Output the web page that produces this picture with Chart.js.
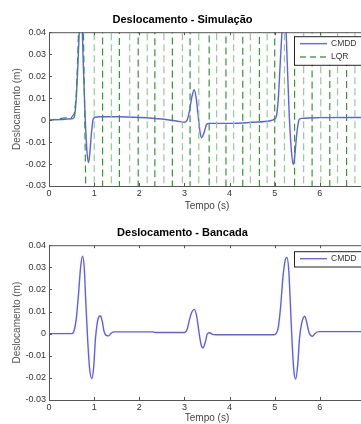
<!DOCTYPE html>
<html>
<head>
<meta charset="utf-8">
<script src="https://cdn.jsdelivr.net/npm/chart.js@4"></script>
<style>
  html, body { margin: 0; padding: 0; background: #fff; }
  #wrap { position: relative; width: 361px; height: 424px; overflow: hidden; }
  canvas { position: absolute; left: 0; }
</style>
</head>
<body>
<div id="wrap">
  <canvas id="simChart" width="370" height="212" style="top:0"></canvas>
  <canvas id="benchChart" width="370" height="212" style="top:212px"></canvas>
</div>
<script>
// Simulation - CMDD (m) vs time (s)
const simTime = [0, 0.3, 0.5, 0.55, 0.58, 0.61, 0.64, 0.67, 0.70, 0.73, 0.76, 0.80, 0.84, 0.875, 0.90, 0.94, 0.98, 1.03, 1.1, 1.5, 2.0, 2.5, 2.85, 3.0, 3.06, 3.11, 3.17, 3.215, 3.26, 3.31, 3.35, 3.385, 3.43, 3.49, 3.54, 4.0, 4.5, 4.9, 5.0, 5.04, 5.08, 5.12, 5.16, 5.20, 5.24, 5.28, 5.32, 5.37, 5.41, 5.44, 5.49, 5.54, 5.6, 6.0, 7.0];
const simCmdd = [0, 0.0003, 0.0006, 0.001, 0.004, 0.012, 0.025, 0.04, 0.05, 0.045, 0.025, 0.002, -0.014, -0.0193, -0.016, -0.006, 0.0005, 0.0013, 0.0015, 0.0015, 0.0012, 0.0005, -0.0005, -0.001, 0.0, 0.004, 0.011, 0.0138, 0.010, 0.001, -0.006, -0.008, -0.006, -0.002, -0.0015, -0.0015, -0.001, -0.0003, 0.0005, 0.002, 0.01, 0.025, 0.04, 0.05, 0.045, 0.025, 0.003, -0.014, -0.0202, -0.017, -0.006, 0.0002, 0.0008, 0.0011, 0.0012];

// Simulation - LQR, goes unstable: swings far outside the axis after ~0.8 s
const lqrTime = [0, 0.2, 0.35, 0.5, 0.56, 0.6, 0.63, 0.66, 0.70, 0.76, 0.817, 0.817,
  1.002, 1.002, 1.187, 1.187, 1.381, 1.381, 1.559, 1.559, 1.788, 1.788, 1.976, 1.976,
  2.176, 2.176, 2.345, 2.345, 2.546, 2.546, 2.733, 2.733, 2.955, 2.955, 3.125, 3.125,
  3.318, 3.318, 3.548, 3.548, 3.713, 3.713, 3.920, 3.920, 4.091, 4.091, 4.292, 4.292,
  4.461, 4.461, 4.661, 4.661, 4.833, 4.833, 5.000, 5.000, 5.215, 5.215, 5.440, 5.440,
  5.641, 5.641, 5.828, 5.828, 6.020, 6.020, 6.220, 6.220, 6.392, 6.392, 6.592, 6.592,
  6.777, 6.777, 7.0];
const lqrValue = [0, 0.0005, 0.001, 0.0012, 0.003, 0.01, 0.025, 0.045, 0.09, 0.045, -0.035, -1,
  -1, 1, 1, -1, -1, 1, 1, -1, -1, 1, 1, -1,
  -1, 1, 1, -1, -1, 1, 1, -1, -1, 1, 1, -1,
  -1, 1, 1, -1, -1, 1, 1, -1, -1, 1, 1, -1,
  -1, 1, 1, -1, -1, 1, 1, -1, -1, 1, 1, -1,
  -1, 1, 1, -1, -1, 1, 1, -1, -1, 1, 1, -1,
  -1, 1, 1];

// Bench test - CMDD
const benchTime = [0, 0.50, 0.55, 0.60, 0.65, 0.70, 0.74, 0.78, 0.82, 0.86, 0.90, 0.95, 0.99, 1.03, 1.07, 1.10, 1.14, 1.18, 1.22, 1.27, 1.32, 1.38, 1.45, 2.3, 2.35, 3.0, 3.06, 3.12, 3.17, 3.22, 3.27, 3.32, 3.37, 3.41, 3.46, 3.51, 3.56, 3.62, 3.70, 4.98, 5.03, 5.08, 5.13, 5.18, 5.23, 5.27, 5.31, 5.35, 5.39, 5.43, 5.465, 5.51, 5.55, 5.60, 5.665, 5.71, 5.76, 5.835, 5.90, 5.98, 7.0];
const benchCmdd = [0, 0, 0.001, 0.006, 0.017, 0.030, 0.035, 0.030, 0.012, -0.004, -0.016, -0.0203, -0.015, -0.002, 0.005, 0.0075, 0.008, 0.0055, 0.001, -0.0008, -0.001, 0.0003, 0.0008, 0.0008, 0.0005, 0.0005, 0.002, 0.007, 0.010, 0.011, 0.008, 0.001, -0.005, -0.0064, -0.004, 0, 0.0004, -0.0003, -0.0005, -0.0005, 0, 0.003, 0.012, 0.025, 0.033, 0.0345, 0.029, 0.012, -0.006, -0.018, -0.0205, -0.014, -0.002, 0.005, 0.0079, 0.005, 0.0005, -0.0012, 0.0002, 0.0009, 0.0009];

const FONT = "'Liberation Sans', Arial, Helvetica, sans-serif";
const BLUE = "#5c5cff";
const GREEN_DARK = "#2f9a2f";
const GREEN_LIGHT = "#8ed08e";

function toPoints(xs, ys) {
    return xs.map((x, i) => ({ x: x, y: ys[i] }));
}

// matlab-style box: frame all round and small ticks pointing inwards
const boxPlugin = {
    id: "matlabBox",
    afterDatasetsDraw(chart) {
        const { ctx, chartArea: a, scales } = chart;
        ctx.save();
        ctx.strokeStyle = "#555";
        ctx.lineWidth = 1;
        ctx.strokeRect(a.left + 0.5, a.top + 0.5, a.right - a.left, a.bottom - a.top);
        ctx.beginPath();
        scales.x.ticks.forEach((t) => {
            const px = Math.round(scales.x.getPixelForValue(t.value)) + 0.5;
            ctx.moveTo(px, a.bottom); ctx.lineTo(px, a.bottom - 3);
            ctx.moveTo(px, a.top); ctx.lineTo(px, a.top + 3);
        });
        scales.y.ticks.forEach((t) => {
            const py = Math.round(scales.y.getPixelForValue(t.value)) + 0.5;
            ctx.moveTo(a.left, py); ctx.lineTo(a.left + 3, py);
            ctx.moveTo(a.right, py); ctx.lineTo(a.right - 3, py);
        });
        ctx.stroke();

        // legend box in the upper right corner
        const items = chart.options.plugins.boxLegend.items;
        const lx = a.left + 245;
        const ly = a.top + chart.options.plugins.boxLegend.offset;
        const h = 2 + items.length * 13.3;
        ctx.fillStyle = "#fff";
        ctx.fillRect(lx, ly, 80, h);
        ctx.strokeStyle = "#222";
        ctx.strokeRect(lx + 0.5, ly + 0.5, 80, h);
        items.forEach((it, i) => {
            const y = ly + 7.5 + i * 13.3;
            ctx.beginPath();
            ctx.strokeStyle = it.color;
            ctx.lineWidth = 1.3;
            ctx.setLineDash(it.dash || []);
            ctx.moveTo(lx + 6, y); ctx.lineTo(lx + 33, y);
            ctx.stroke();
            ctx.setLineDash([]);
            ctx.fillStyle = "#333";
            ctx.font = "8.5px " + FONT;
            ctx.textBaseline = "middle";
            ctx.fillText(it.label, lx + 37, y);
        });
        ctx.restore();
    },
};

function axesOptions(title, titleTop, xHeight) {
    return {
        responsive: false,
        animation: false,
        devicePixelRatio: 1,
        layout: { padding: { left: 0, right: 5, top: 0, bottom: 0 } },
        plugins: {
            legend: { display: false },
            tooltip: { enabled: false },
            title: {
                display: true,
                text: title,
                color: "#000",
                font: { family: FONT, size: 11, weight: "bold" },
                padding: { top: titleTop, bottom: 6 },
            },
        },
        scales: {
            x: {
                type: "linear",
                min: 0,
                max: 7,
                afterFit: (s) => { s.height = xHeight; },
                grid: { display: false, drawTicks: false },
                border: { display: false },
                ticks: { stepSize: 1, padding: 2, color: "#333", font: { family: FONT, size: 9 } },
                title: { display: true, text: "Tempo (s)", color: "#444", padding: 0, font: { family: FONT, size: 10 } },
            },
            y: {
                min: -0.03,
                max: 0.04,
                afterFit: (s) => { s.width = 49; },
                grid: { display: false, drawTicks: false },
                border: { display: false },
                ticks: {
                    stepSize: 0.01,
                    padding: 3,
                    color: "#333",
                    font: { family: FONT, size: 9 },
                    callback: (v) => {
                        const r = Math.round(v * 100) / 100;
                        return r === 0 ? "0" : r.toFixed(2);
                    },
                },
                title: { display: true, text: "Deslocamento (m)", color: "#555", padding: { top: 11, bottom: 0 }, font: { family: FONT, size: 10 } },
            },
        },
    };
}

const simOpts = axesOptions("Deslocamento - Simulação", 13, 26);
simOpts.plugins.boxLegend = {
    offset: 4,
    items: [
        { label: "CMDD", color: BLUE },
        { label: "LQR", color: "#4aa84a", dash: [6, 4] },
    ],
};

new Chart(document.getElementById("simChart"), {
    type: "line",
    data: {
        datasets: [
            {
                label: "LQR",
                data: toPoints(lqrTime, lqrValue),
                borderColor: GREEN_DARK,
                borderWidth: 1.2,
                borderDash: [7, 4],
                pointRadius: 0,
                tension: 0,
                order: 0,
                segment: {
                    borderColor: (c) => {
                        if (c.p0.parsed.x !== c.p1.parsed.x) return GREEN_DARK;
                        return c.p1.parsed.y > c.p0.parsed.y ? GREEN_LIGHT : GREEN_DARK;
                    },
                },
            },
            {
                label: "CMDD",
                data: toPoints(simTime, simCmdd),
                borderColor: BLUE,
                borderWidth: 1.4,
                pointRadius: 0,
                cubicInterpolationMode: "monotone",
                order: 1,
            },
        ],
    },
    options: simOpts,
    plugins: [boxPlugin],
});

const benchOpts = axesOptions("Deslocamento - Bancada", 14, 24);
benchOpts.plugins.boxLegend = {
    offset: 6,
    items: [{ label: "CMDD", color: BLUE }],
};

new Chart(document.getElementById("benchChart"), {
    type: "line",
    data: {
        datasets: [
            {
                label: "CMDD",
                data: toPoints(benchTime, benchCmdd),
                borderColor: BLUE,
                borderWidth: 1.4,
                pointRadius: 0,
                cubicInterpolationMode: "monotone",
            },
        ],
    },
    options: benchOpts,
    plugins: [boxPlugin],
});
</script>
</body>
</html>
